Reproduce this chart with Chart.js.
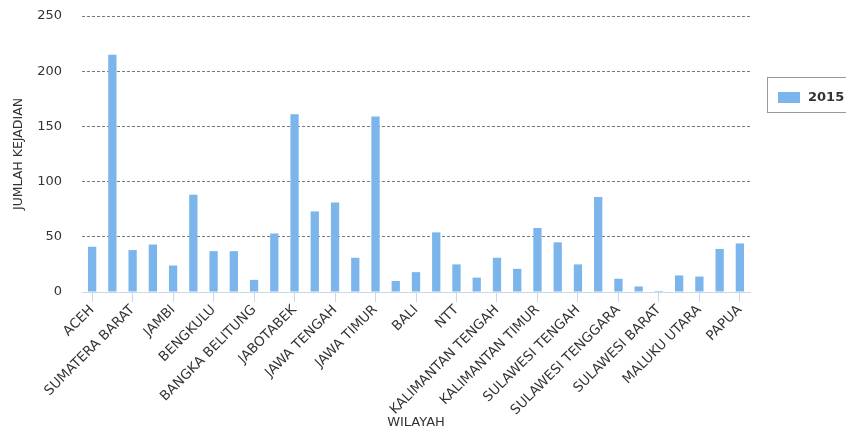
<!DOCTYPE html>
<html>
<head>
<meta charset="utf-8">
<script src="https://cdn.jsdelivr.net/npm/chart.js@4/dist/chart.umd.min.js"></script>
<style>
  html, body { margin: 0; padding: 0; background: #fff; }
  #wrap { width: 846px; height: 432px; position: relative; }
</style>
</head>
<body>
<div id="wrap"><canvas id="c" width="846" height="432"></canvas></div>
<script>
// Provinces (every other name is printed on the axis)
const wilayah = [
  'ACEH', 'SUMATERA UTARA', 'SUMATERA BARAT', 'RIAU', 'JAMBI',
  'SUMATERA SELATAN', 'BENGKULU', 'LAMPUNG', 'BANGKA BELITUNG', 'KEPULAUAN RIAU',
  'JABOTABEK', 'JAWA BARAT', 'JAWA TENGAH', 'DI YOGYAKARTA', 'JAWA TIMUR',
  'BANTEN', 'BALI', 'NTB', 'NTT', 'KALIMANTAN BARAT',
  'KALIMANTAN TENGAH', 'KALIMANTAN SELATAN', 'KALIMANTAN TIMUR', 'SULAWESI UTARA', 'SULAWESI TENGAH',
  'SULAWESI SELATAN', 'SULAWESI TENGGARA', 'GORONTALO', 'SULAWESI BARAT', 'MALUKU',
  'MALUKU UTARA', 'PAPUA BARAT', 'PAPUA'
];

// Number of incidents per province, 2015
const kejadian2015 = [
  41, 215, 38, 43, 24,
  88, 37, 37, 11, 53,
  161, 73, 81, 31, 159,
  10, 18, 54, 25, 13,
  31, 21, 58, 45, 25,
  86, 12, 5, 1, 15,
  14, 39, 44
];

const seriesLabel = '2015';
const yTicks = [0, 50, 100, 150, 200, 250];

const FONT = 'DejaVu Sans, Verdana, sans-serif';
const BAR_COLOR = '#7cb5ec';

// Boxed legend on the right-hand side
const boxedLegend = {
  id: 'boxedLegend',
  afterDraw(chart) {
    const ctx = chart.ctx;
    const ds = chart.data.datasets[0];
    ctx.save();
    ctx.strokeStyle = '#999999';
    ctx.lineWidth = 1;
    ctx.strokeRect(767.5, 77.5, 100, 35);
    ctx.fillStyle = ds.backgroundColor;
    ctx.fillRect(778, 92, 22, 11);
    ctx.fillStyle = '#333333';
    ctx.font = 'bold 13px ' + FONT;
    ctx.textBaseline = 'middle';
    ctx.textAlign = 'left';
    ctx.fillText(ds.label, 808, 97.5);
    ctx.restore();
  }
};

new Chart(document.getElementById('c'), {
  type: 'bar',
  data: {
    labels: wilayah,
    datasets: [{
      label: seriesLabel,
      data: kejadian2015,
      backgroundColor: BAR_COLOR,
      borderWidth: 0,
      categoryPercentage: 1,
      barPercentage: 0.41
    }]
  },
  options: {
    responsive: false,
    animation: false,
    devicePixelRatio: 1,
    layout: { autoPadding: false, padding: { left: 11, right: 96, top: 16, bottom: 0 } },
    plugins: {
      legend: { display: false },
      tooltip: { enabled: false }
    },
    scales: {
      x: {
        offset: true,
        afterFit(scale) {
          scale.height = 140;
          scale.paddingLeft = 0;
          scale.paddingRight = 0;
        },
        border: { display: true, color: '#ccd6eb', width: 1 },
        grid: {
          offset: false,
          drawOnChartArea: false,
          drawTicks: true,
          tickLength: 10,
          color: (c) => (c.index % 2 === 0 ? '#ccd6eb' : 'rgba(0,0,0,0)')
        },
        ticks: {
          autoSkip: false,
          maxRotation: 45,
          minRotation: 45,
          padding: 0,
          color: '#333333',
          font: { family: FONT, size: 13.5 },
          callback(value, index) { return index % 2 === 0 ? this.getLabelForValue(value) : ''; }
        },
        title: {
          display: true,
          text: 'WILAYAH',
          color: '#333333',
          font: { family: FONT, size: 13 },
          padding: { top: 0, bottom: 2 }
        }
      },
      y: {
        min: 0,
        max: 250,
        afterFit(scale) {
          scale.width = 71;
          scale.paddingTop = 0;
          scale.paddingBottom = 0;
        },
        afterBuildTicks(scale) { scale.ticks = yTicks.map(v => ({ value: v })); },
        border: { display: false, dash: [3, 2] },
        grid: {
          drawTicks: false,
          lineWidth: 1,
          color: (c) => (c.tick && c.tick.value === 0 ? 'rgba(0,0,0,0)' : '#7a7a7a')
        },
        ticks: {
          padding: 20,
          color: '#333333',
          font: { family: FONT, size: 13 }
        },
        title: {
          display: true,
          text: 'JUMLAH KEJADIAN',
          color: '#333333',
          font: { family: FONT, size: 12.5 },
          padding: { top: 0, bottom: 0 }
        }
      }
    }
  },
  plugins: [boxedLegend]
});
</script>
</body>
</html>
